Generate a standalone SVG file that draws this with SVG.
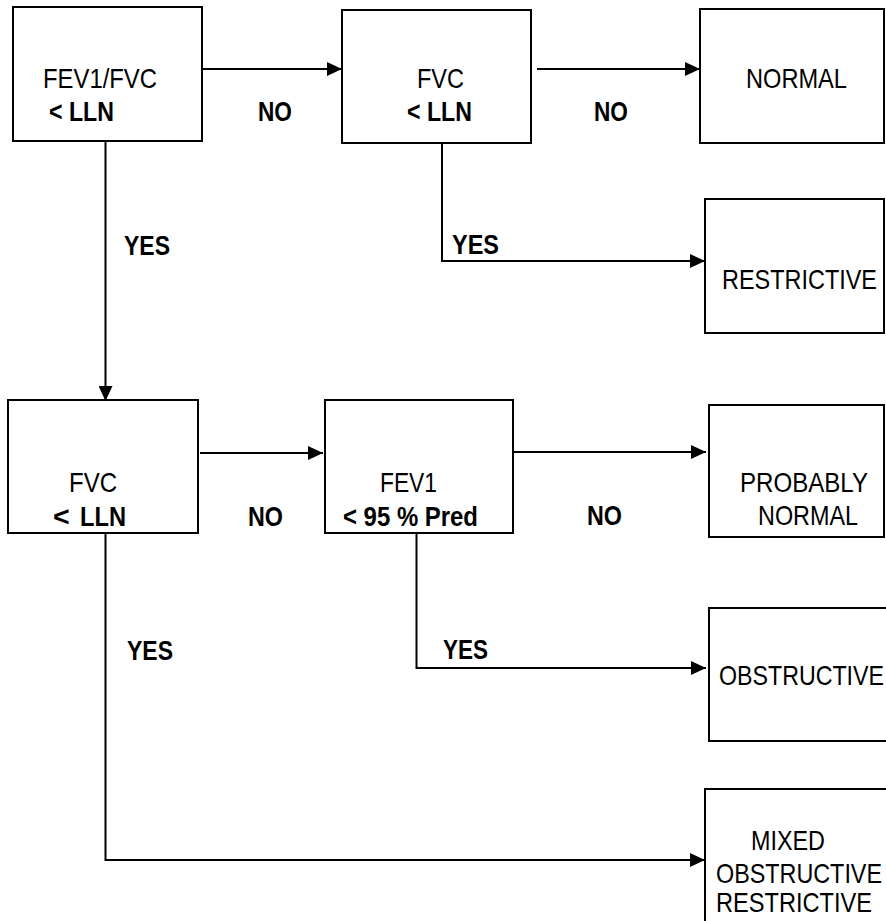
<svg xmlns="http://www.w3.org/2000/svg" width="886" height="921" viewBox="0 0 886 921">
<style>
.box{fill:#fff;stroke:#000;stroke-width:2}
.ln{fill:none;stroke:#000;stroke-width:2}
text{font-family:"Liberation Sans Narrow","Liberation Sans",Arial,sans-serif;font-size:28.5px;fill:#000}
.b{font-weight:bold}
</style>
<defs>
<marker id="ah" markerUnits="userSpaceOnUse" markerWidth="16" markerHeight="14" refX="15" refY="7" orient="auto">
<path d="M0,0 L15,7 L0,14 z" fill="#000"/>
</marker>
</defs>
<rect width="886" height="921" fill="#fff"/>
<g id="connectors">
<path class="ln" d="M202,69 H342" marker-end="url(#ah)"/>
<path class="ln" d="M537,69 H700" marker-end="url(#ah)"/>
<path class="ln" d="M442,143 V261 H705" marker-end="url(#ah)"/>
<path class="ln" d="M105.5,141 V401" marker-end="url(#ah)"/>
<path class="ln" d="M200,453 H323" marker-end="url(#ah)"/>
<path class="ln" d="M513,452 H706" marker-end="url(#ah)"/>
<path class="ln" d="M416.5,533 V668 H706" marker-end="url(#ah)"/>
<path class="ln" d="M105.5,533 V860 H705" marker-end="url(#ah)"/>
<text class="b" x="258" y="121" textLength="34" lengthAdjust="spacingAndGlyphs">NO</text>
<text class="b" x="594" y="121" textLength="34" lengthAdjust="spacingAndGlyphs">NO</text>
<text class="b" x="124" y="255" textLength="46" lengthAdjust="spacingAndGlyphs">YES</text>
<text class="b" x="452" y="254" textLength="47" lengthAdjust="spacingAndGlyphs">YES</text>
<text class="b" x="248" y="526" textLength="35" lengthAdjust="spacingAndGlyphs">NO</text>
<text class="b" x="587" y="525" textLength="35" lengthAdjust="spacingAndGlyphs">NO</text>
<text class="b" x="127" y="660" textLength="46" lengthAdjust="spacingAndGlyphs">YES</text>
<text class="b" x="443" y="659" textLength="45" lengthAdjust="spacingAndGlyphs">YES</text>
</g>
<g id="fev1fvc">
<rect class="box" x="13" y="7" width="189" height="134"/>
<text x="43" y="88" textLength="114" lengthAdjust="spacingAndGlyphs">FEV1/FVC</text>
<text class="b" x="49" y="121" textLength="65" lengthAdjust="spacingAndGlyphs">&lt; LLN</text>
</g>
<g id="fvc1">
<rect class="box" x="342" y="10" width="189" height="133"/>
<text x="417" y="88" textLength="47" lengthAdjust="spacingAndGlyphs">FVC</text>
<text class="b" x="407" y="121" textLength="65" lengthAdjust="spacingAndGlyphs">&lt; LLN</text>
</g>
<g id="normal">
<rect class="box" x="700" y="9" width="184" height="134"/>
<text x="746" y="88" textLength="101" lengthAdjust="spacingAndGlyphs">NORMAL</text>
</g>
<g id="restrictive">
<rect class="box" x="705" y="199" width="179" height="134"/>
<text x="722" y="289" textLength="155" lengthAdjust="spacingAndGlyphs">RESTRICTIVE</text>
</g>
<g id="fvc2">
<rect class="box" x="8" y="400" width="190" height="133"/>
<text x="69" y="492" textLength="48" lengthAdjust="spacingAndGlyphs">FVC</text>
<text class="b" x="53" y="526">&lt;</text>
<text class="b" x="80" y="526" textLength="46" lengthAdjust="spacingAndGlyphs">LLN</text>
</g>
<g id="fev1">
<rect class="box" x="325" y="400" width="188" height="133"/>
<text x="380" y="492" textLength="57" lengthAdjust="spacingAndGlyphs">FEV1</text>
<text class="b" x="343" y="526" textLength="135" lengthAdjust="spacingAndGlyphs">&lt; 95 % Pred</text>
</g>
<g id="probably-normal">
<rect class="box" x="709" y="405" width="175" height="132"/>
<text x="740" y="492" textLength="128" lengthAdjust="spacingAndGlyphs">PROBABLY</text>
<text x="758" y="525" textLength="100" lengthAdjust="spacingAndGlyphs">NORMAL</text>
</g>
<g id="obstructive">
<rect class="box" x="709" y="608" width="200" height="133"/>
<text x="719" y="685" textLength="165" lengthAdjust="spacingAndGlyphs">OBSTRUCTIVE</text>
</g>
<g id="mixed">
<rect class="box" x="705" y="789" width="200" height="160"/>
<text x="751" y="850" textLength="74" lengthAdjust="spacingAndGlyphs">MIXED</text>
<text x="716" y="883" textLength="166" lengthAdjust="spacingAndGlyphs">OBSTRUCTIVE</text>
<text x="716" y="912" textLength="156" lengthAdjust="spacingAndGlyphs">RESTRICTIVE</text>
</g>
</svg>
